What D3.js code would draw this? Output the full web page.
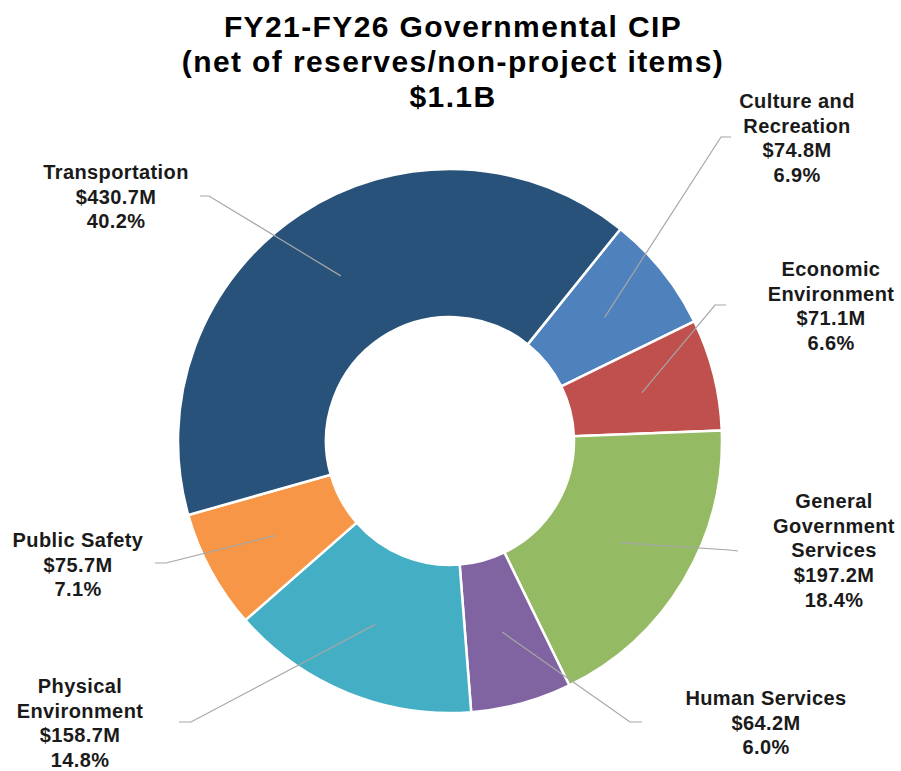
<!DOCTYPE html>
<html>
<head>
<meta charset="utf-8">
<script src="https://cdn.jsdelivr.net/npm/d3@7/dist/d3.min.js"></script>
<style>
  html, body { margin: 0; padding: 0; background: #fff; }
  svg { display: block; }
</style>
</head>
<body>
<div id="chart"></div>
<script>
// chart data
const categories = ["Culture and Recreation", "Economic Environment", "General Government Services",
  "Human Services", "Physical Environment", "Public Safety", "Transportation"];
const values = [74.8, 71.1, 197.2, 64.2, 158.7, 75.7, 430.7];           // $M
const percentLabels = ["6.9%", "6.6%", "18.4%", "6.0%", "14.8%", "7.1%", "40.2%"];
const nameLines = [["Culture and", "Recreation"], ["Economic", "Environment"], ["General", "Government", "Services"],
  ["Human Services"], ["Physical", "Environment"], ["Public Safety"], ["Transportation"]];
const colors = ["#4f81bd", "#c0504d", "#94bb63", "#8064a2", "#44aec4", "#f79646", "#28527a"];
const titleLines = ["FY21-FY26 Governmental CIP", "(net of reserves/non-project items)", "$1.1B"];

// label layout: text centre x, first baseline, leader elbow and leader end (manual like the source)
const labelLayout = [
  { x: 797, y: 108, elbow: [721, 137], end: [731, 137] },
  { x: 831, y: 276, elbow: [715, 305], end: [726, 305] },
  { x: 834, y: 508, elbow: [729, 550], end: [738, 551] },
  { x: 766, y: 705, elbow: [630, 722], end: [642, 722] },
  { x: 80,  y: 693, elbow: [191, 722], end: [179, 722] },
  { x: 78,  y: 547, elbow: [166, 563], end: [155, 563] },
  { x: 116, y: 179, elbow: [209, 196], end: [200, 196] }
];

const W = 901, H = 771;
const cx = 450, cy = 441;
const outerR = 272, innerR = 124;
const start = 38.8 * Math.PI / 180;

const svg = d3.select("#chart").append("svg")
  .attr("width", W)
  .attr("height", H)
  .style("font-family", "Arial, 'Liberation Sans', sans-serif");

// title
svg.append("g")
  .selectAll("text")
  .data(titleLines)
  .join("text")
  .attr("x", 453)
  .attr("y", (d, i) => 37 + i * 35)
  .attr("text-anchor", "middle")
  .attr("font-size", "30px")
  .attr("font-weight", "bold")
  .attr("letter-spacing", "1.4px")
  .attr("fill", "#000")
  .text(d => d);

const rows = categories.map((c, i) => ({ name: c, value: values[i], pct: percentLabels[i],
  lines: nameLines[i], color: colors[i], layout: labelLayout[i] }));

const pie = d3.pie()
  .sort(null)
  .value(d => d.value)
  .startAngle(start)
  .endAngle(start + 2 * Math.PI);

const arc = d3.arc().innerRadius(innerR).outerRadius(outerR);

const arcs = pie(rows);

const g = svg.append("g").attr("transform", `translate(${cx},${cy})`);

g.selectAll("path.slice")
  .data(arcs)
  .join("path")
  .attr("class", "slice")
  .attr("d", arc)
  .attr("fill", d => d.data.color)
  .attr("stroke", "#fff")
  .attr("stroke-width", 2.5)
  .attr("stroke-linejoin", "round");

// leader lines, from slice centroid to the label
const line = d3.line();
svg.append("g")
  .selectAll("path")
  .data(arcs)
  .join("path")
  .attr("d", d => {
    const c = arc.centroid(d);
    return line([[c[0] + cx, c[1] + cy], d.data.layout.elbow, d.data.layout.end]);
  })
  .attr("fill", "none")
  .attr("stroke", "#a6a6a6")
  .attr("stroke-width", 1.2);

// data labels
const lab = svg.append("g")
  .selectAll("text")
  .data(rows)
  .join("text")
  .attr("text-anchor", "middle")
  .attr("font-size", "20px")
  .attr("font-weight", "bold")
  .attr("letter-spacing", "0.4px")
  .attr("fill", "#1a1a1a");

lab.selectAll("tspan")
  .data(d => d.lines.concat(["$" + d.value.toFixed(1) + "M", d.pct]).map(t => ({ t, d })))
  .join("tspan")
  .attr("x", p => p.d.layout.x)
  .attr("y", (p, i) => p.d.layout.y + i * 24.7)
  .text(p => p.t);
</script>
</body>
</html>
